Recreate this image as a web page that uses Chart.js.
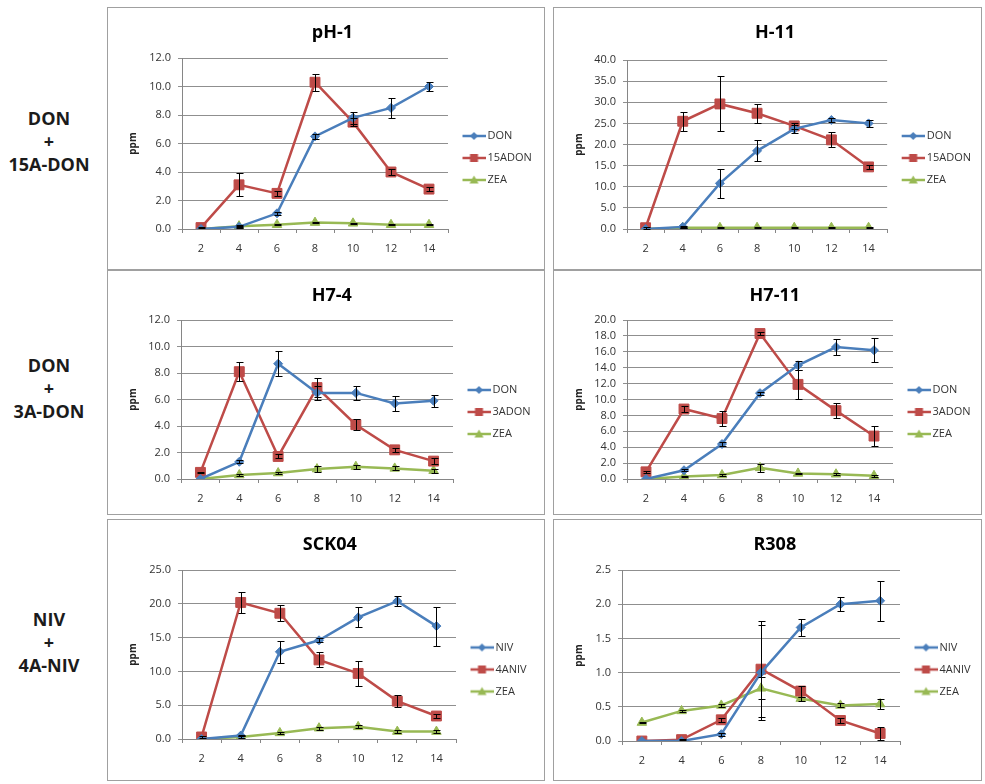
<!DOCTYPE html>
<html>
<head>
<meta charset="utf-8">
<script src="https://cdn.jsdelivr.net/npm/chart.js@4.4.1/dist/chart.umd.min.js"></script>
<style>
    body { margin: 0; background: #fff; width: 985px; height: 784px; position: relative; overflow: hidden; font-family: "Open Sans", sans-serif; }
    .panel { position: absolute; border: 1px solid #a0a0a0; box-sizing: border-box; background: #fff; }
    .panel canvas { display: block; }
    .rowlabel { position: absolute; left: 0; width: 98px; text-align: center; font-weight: bold; font-size: 18px; line-height: 23px; color: #1b1b1b; }
</style>
</head>
<body>

<div class="rowlabel" style="top:107px">DON<br>+<br>15A-DON</div>
<div class="rowlabel" style="top:354px">DON<br>+<br>3A-DON</div>
<div class="rowlabel" style="top:608px">NIV<br>+<br>4A-NIV</div>

<div class="panel" style="left:107px; top:7px; width:438px; height:263px;"><canvas id="c1" width="436" height="261"></canvas></div>
<div class="panel" style="left:553px; top:7px; width:429px; height:263px;"><canvas id="c2" width="427" height="261"></canvas></div>
<div class="panel" style="left:107px; top:270px; width:438px; height:245px;"><canvas id="c3" width="436" height="243"></canvas></div>
<div class="panel" style="left:553px; top:270px; width:429px; height:245px;"><canvas id="c4" width="427" height="243"></canvas></div>
<div class="panel" style="left:107px; top:519px; width:438px; height:262px;"><canvas id="c5" width="436" height="260"></canvas></div>
<div class="panel" style="left:553px; top:519px; width:429px; height:262px;"><canvas id="c6" width="427" height="260"></canvas></div>

<script>
// Sampling days (x axis)
const days = ['2', '4', '6', '8', '10', '12', '14'];

// pH-1 (DON + 15ADON)
const ph1Ticks = [0, 2, 4, 6, 8, 10, 12];
const ph1Don = [0, 0.15, 1.1, 6.5, 7.8, 8.5, 10.0];
const ph1DonErr = [0, 0.05, 0.1, 0.15, 0.4, 0.7, 0.35];
const ph1Adon = [0.1, 3.1, 2.5, 10.3, 7.5, 4.0, 2.8];
const ph1AdonErr = [0.05, 0.8, 0.15, 0.6, 0.3, 0.2, 0.15];
const ph1Zea = [0, 0.2, 0.3, 0.45, 0.4, 0.3, 0.3];
const ph1ZeaErr = [0, 0.05, 0.05, 0.05, 0.05, 0.05, 0.05];

// H-11 (DON + 15ADON)
const h11Ticks = [0, 5, 10, 15, 20, 25, 30, 35, 40];
const h11Don = [0, 0.5, 10.8, 18.5, 23.7, 25.8, 25.0];
const h11DonErr = [0, 0.3, 3.4, 2.5, 1.0, 0.5, 0.9];
const h11Adon = [0.3, 25.5, 29.6, 27.4, 24.4, 21.1, 14.7];
const h11AdonErr = [0.2, 2.3, 6.5, 2.3, 0.8, 1.8, 0.5];
const h11Zea = [0, 0.3, 0.3, 0.3, 0.3, 0.3, 0.3];
const h11ZeaErr = [0, 0.1, 0.1, 0.1, 0.1, 0.1, 0.1];

// H7-4 (DON + 3ADON)
const h74Ticks = [0, 2, 4, 6, 8, 10, 12];
const h74Don = [0, 1.3, 8.7, 6.5, 6.5, 5.7, 5.9];
const h74DonErr = [0, 0.1, 0.95, 0.5, 0.5, 0.6, 0.45];
const h74Adon = [0.5, 8.1, 1.7, 6.9, 4.1, 2.2, 1.35];
const h74AdonErr = [0.05, 0.7, 0.15, 0.7, 0.4, 0.15, 0.2];
const h74Zea = [0, 0.3, 0.45, 0.75, 0.93, 0.8, 0.63];
const h74ZeaErr = [0, 0.05, 0.05, 0.2, 0.15, 0.15, 0.15];

// H7-11 (DON + 3ADON)
const h711Ticks = [0, 2, 4, 6, 8, 10, 12, 14, 16, 18, 20];
const h711Don = [0, 1.1, 4.4, 10.8, 14.3, 16.6, 16.2];
const h711DonErr = [0, 0.1, 0.2, 0.2, 0.6, 1.0, 1.5];
const h711Adon = [0.9, 8.8, 7.6, 18.3, 11.9, 8.6, 5.4];
const h711AdonErr = [0.1, 0.4, 0.9, 0.2, 1.8, 0.9, 1.3];
const h711Zea = [0, 0.3, 0.5, 1.4, 0.7, 0.6, 0.4];
const h711ZeaErr = [0, 0.05, 0.1, 0.5, 0.1, 0.1, 0.1];

// SCK04 (NIV + 4ANIV)
const sckTicks = [0, 5, 10, 15, 20, 25];
const sckNiv = [0, 0.5, 12.9, 14.6, 18.0, 20.4, 16.7];
const sckNivErr = [0, 0.1, 1.6, 0.3, 1.5, 0.7, 2.9];
const sckAniv = [0.3, 20.2, 18.6, 11.7, 9.7, 5.6, 3.4];
const sckAnivErr = [0.1, 1.6, 1.2, 1.1, 1.8, 0.9, 0.3];
const sckZea = [0, 0.3, 0.9, 1.6, 1.8, 1.1, 1.1];
const sckZeaErr = [0, 0.1, 0.2, 0.2, 0.2, 0.2, 0.2];

// R308 (NIV + 4ANIV)
const r308Ticks = [0, 0.5, 1, 1.5, 2, 2.5];
const r308Niv = [0, 0, 0.1, 1.0, 1.66, 2.0, 2.05];
const r308NivErr = [0, 0, 0.02, 0.7, 0.12, 0.1, 0.29];
const r308Aniv = [0, 0.02, 0.31, 1.05, 0.73, 0.3, 0.11];
const r308AnivErr = [0, 0.01, 0.03, 0.7, 0.08, 0.03, 0.09];
const r308Zea = [0.27, 0.44, 0.52, 0.77, 0.62, 0.52, 0.54];
const r308ZeaErr = [0.01, 0.02, 0.02, 0.16, 0.03, 0.03, 0.07];

const FONT = "'Open Sans', sans-serif";
const BLUE = '#4A7EBB', RED = '#BE4B48', GREEN = '#98B954';

// Error bars are not built into Chart.js, so draw them after the lines
const errorBarPlugin = {
    id: 'errorBars',
    afterDatasetsDraw(chart) {
        const ctx = chart.ctx;
        const y = chart.scales.y;
        const area = chart.chartArea;
        ctx.save();
        ctx.beginPath();
        ctx.rect(area.left, area.top - 1, area.right - area.left, area.bottom - area.top + 2);
        ctx.clip();
        ctx.strokeStyle = '#000';
        ctx.lineWidth = 1;
        chart.data.datasets.forEach((ds, i) => {
            if (!ds.errors) return;
            chart.getDatasetMeta(i).data.forEach((pt, j) => {
                const err = ds.errors[j];
                if (!err) return;
                const x = Math.round(pt.x) + 0.5;
                const top = Math.round(y.getPixelForValue(ds.data[j] + err)) + 0.5;
                const bottom = Math.round(y.getPixelForValue(ds.data[j] - err)) + 0.5;
                ctx.beginPath();
                ctx.moveTo(x, top); ctx.lineTo(x, bottom);
                ctx.moveTo(x - 3, top); ctx.lineTo(x + 4, top);
                ctx.moveTo(x - 3, bottom); ctx.lineTo(x + 4, bottom);
                ctx.stroke();
            });
        });
        ctx.restore();
    }
};

// Excel style legend key: short line with the marker on it
function legendMark(color, style) {
    const c = document.createElement('canvas');
    c.width = 30; c.height = 12;
    const g = c.getContext('2d');
    g.strokeStyle = color;
    g.lineWidth = 2.5;
    g.beginPath(); g.moveTo(7, 6); g.lineTo(30, 6); g.stroke();
    g.fillStyle = color;
    const cx = 18.5, cy = 6;
    g.beginPath();
    if (style === 'rectRot') {
        g.moveTo(cx, cy - 4); g.lineTo(cx + 4, cy); g.lineTo(cx, cy + 4); g.lineTo(cx - 4, cy);
    } else if (style === 'rect') {
        g.rect(cx - 4, cy - 4, 8, 8);
    } else {
        g.moveTo(cx, cy - 4.5); g.lineTo(cx + 4.5, cy + 3.5); g.lineTo(cx - 4.5, cy + 3.5);
    }
    g.closePath();
    g.fill();
    return c;
}

function series(label, data, errors, color, style) {
    const radius = style === 'rect' ? 7 : (style === 'rectRot' ? 4.5 : 5.5);
    return {
        label: label,
        data: data,
        errors: errors,
        borderColor: color,
        backgroundColor: color,
        borderWidth: 2.5,
        pointStyle: style,
        pointRadius: radius,
        pointBorderWidth: 1,
        tension: 0,
        legendImage: legendMark(color, style)
    };
}

// legend box width as Chart.js lays it out (13px measured slack included)
function legendWidth(labels) {
    const ctx = document.createElement('canvas').getContext('2d');
    ctx.font = '11px ' + FONT;
    const w = Math.max(...labels.map(t => ctx.measureText(t).width));
    return 11 + 23 + 5.5 + w + 13;
}

// plot area targets are in canvas pixels: left, right, top, bottom
function makeChart(id, title, datasets, yTicks, plot) {
    const canvas = document.getElementById(id);
    const W = canvas.width, H = canvas.height;
    const padLeft = 15, padTop = 4, padBottom = 4;
    const padRight = Math.max(0, W - plot.right - legendWidth(datasets.map(d => d.label)));

    return new Chart(canvas, {
        type: 'line',
        data: { labels: days, datasets: datasets },
        plugins: [errorBarPlugin],
        options: {
            responsive: false,
            animation: false,
            layout: { padding: { left: padLeft, right: padRight, top: padTop, bottom: padBottom } },
            plugins: {
                title: {
                    display: true,
                    text: title,
                    color: '#000',
                    font: { family: FONT, size: 18, weight: 'bold' },
                    padding: { top: 10, bottom: plot.top - padTop - 10 - 21.6 }
                },
                legend: {
                    position: 'right',
                    align: 'center',
                    title: { display: true, text: '', font: { size: 10 }, padding: 13.5 },
                    labels: {
                        usePointStyle: true,
                        pointStyleWidth: 23,
                        padding: 11,
                        color: '#333',
                        font: { family: FONT, size: 11 },
                        generateLabels: chart => chart.data.datasets.map((ds, i) => ({
                            text: ds.label,
                            pointStyle: ds.legendImage,
                            fillStyle: ds.borderColor,
                            strokeStyle: ds.borderColor,
                            lineWidth: 0,
                            fontColor: '#333',
                            datasetIndex: i
                        }))
                    }
                },
                tooltip: { enabled: false }
            },
            scales: {
                x: {
                    offset: true,
                    grid: { display: true, drawOnChartArea: false, offset: true, tickLength: 4, color: '#868686' },
                    border: { color: '#868686' },
                    ticks: { color: '#333', font: { family: FONT, size: 11 }, padding: 9 },
                    afterFit: s => { s.height = H - plot.bottom - padBottom; }
                },
                y: {
                    min: 0,
                    max: yTicks[yTicks.length - 1],
                    grid: { color: '#8f8f8f', tickLength: 4 },
                    border: { color: '#868686' },
                    ticks: {
                        autoSkip: false,
                        color: '#333',
                        font: { family: FONT, size: 11 },
                        padding: 7,
                        callback: v => v.toFixed(1)
                    },
                    afterBuildTicks: s => { s.ticks = yTicks.map(v => ({ value: v })); },
                    title: { display: true, text: 'ppm', color: '#222', font: { family: FONT, size: 10, weight: 'bold' } },
                    afterFit: s => { s.width = plot.left - padLeft; }
                }
            }
        }
    });
}

document.addEventListener('DOMContentLoaded', () => {
    makeChart('c1', 'pH-1', [
        series('DON', ph1Don, ph1DonErr, BLUE, 'rectRot'),
        series('15ADON', ph1Adon, ph1AdonErr, RED, 'rect'),
        series('ZEA', ph1Zea, ph1ZeaErr, GREEN, 'triangle')
    ], ph1Ticks, { left: 74, right: 337, top: 50, bottom: 221 });

    makeChart('c2', 'H-11', [
        series('DON', h11Don, h11DonErr, BLUE, 'rectRot'),
        series('15ADON', h11Adon, h11AdonErr, RED, 'rect'),
        series('ZEA', h11Zea, h11ZeaErr, GREEN, 'triangle')
    ], h11Ticks, { left: 73, right: 331, top: 52, bottom: 221 });

    makeChart('c3', 'H7-4', [
        series('DON', h74Don, h74DonErr, BLUE, 'rectRot'),
        series('3ADON', h74Adon, h74AdonErr, RED, 'rect'),
        series('ZEA', h74Zea, h74ZeaErr, GREEN, 'triangle')
    ], h74Ticks, { left: 73, right: 342, top: 49, bottom: 208 });

    makeChart('c4', 'H7-11', [
        series('DON', h711Don, h711DonErr, BLUE, 'rectRot'),
        series('3ADON', h711Adon, h711AdonErr, RED, 'rect'),
        series('ZEA', h711Zea, h711ZeaErr, GREEN, 'triangle')
    ], h711Ticks, { left: 73, right: 336, top: 49, bottom: 208 });

    makeChart('c5', 'SCK04', [
        series('NIV', sckNiv, sckNivErr, BLUE, 'rectRot'),
        series('4ANIV', sckAniv, sckAnivErr, RED, 'rect'),
        series('ZEA', sckZea, sckZeaErr, GREEN, 'triangle')
    ], sckTicks, { left: 74, right: 345, top: 50, bottom: 219 });

    makeChart('c6', 'R308', [
        series('NIV', r308Niv, r308NivErr, BLUE, 'rectRot'),
        series('4ANIV', r308Aniv, r308AnivErr, RED, 'rect'),
        series('ZEA', r308Zea, r308ZeaErr, GREEN, 'triangle')
    ], r308Ticks, { left: 68, right: 343, top: 50, bottom: 221 });
});
</script>
</body>
</html>
